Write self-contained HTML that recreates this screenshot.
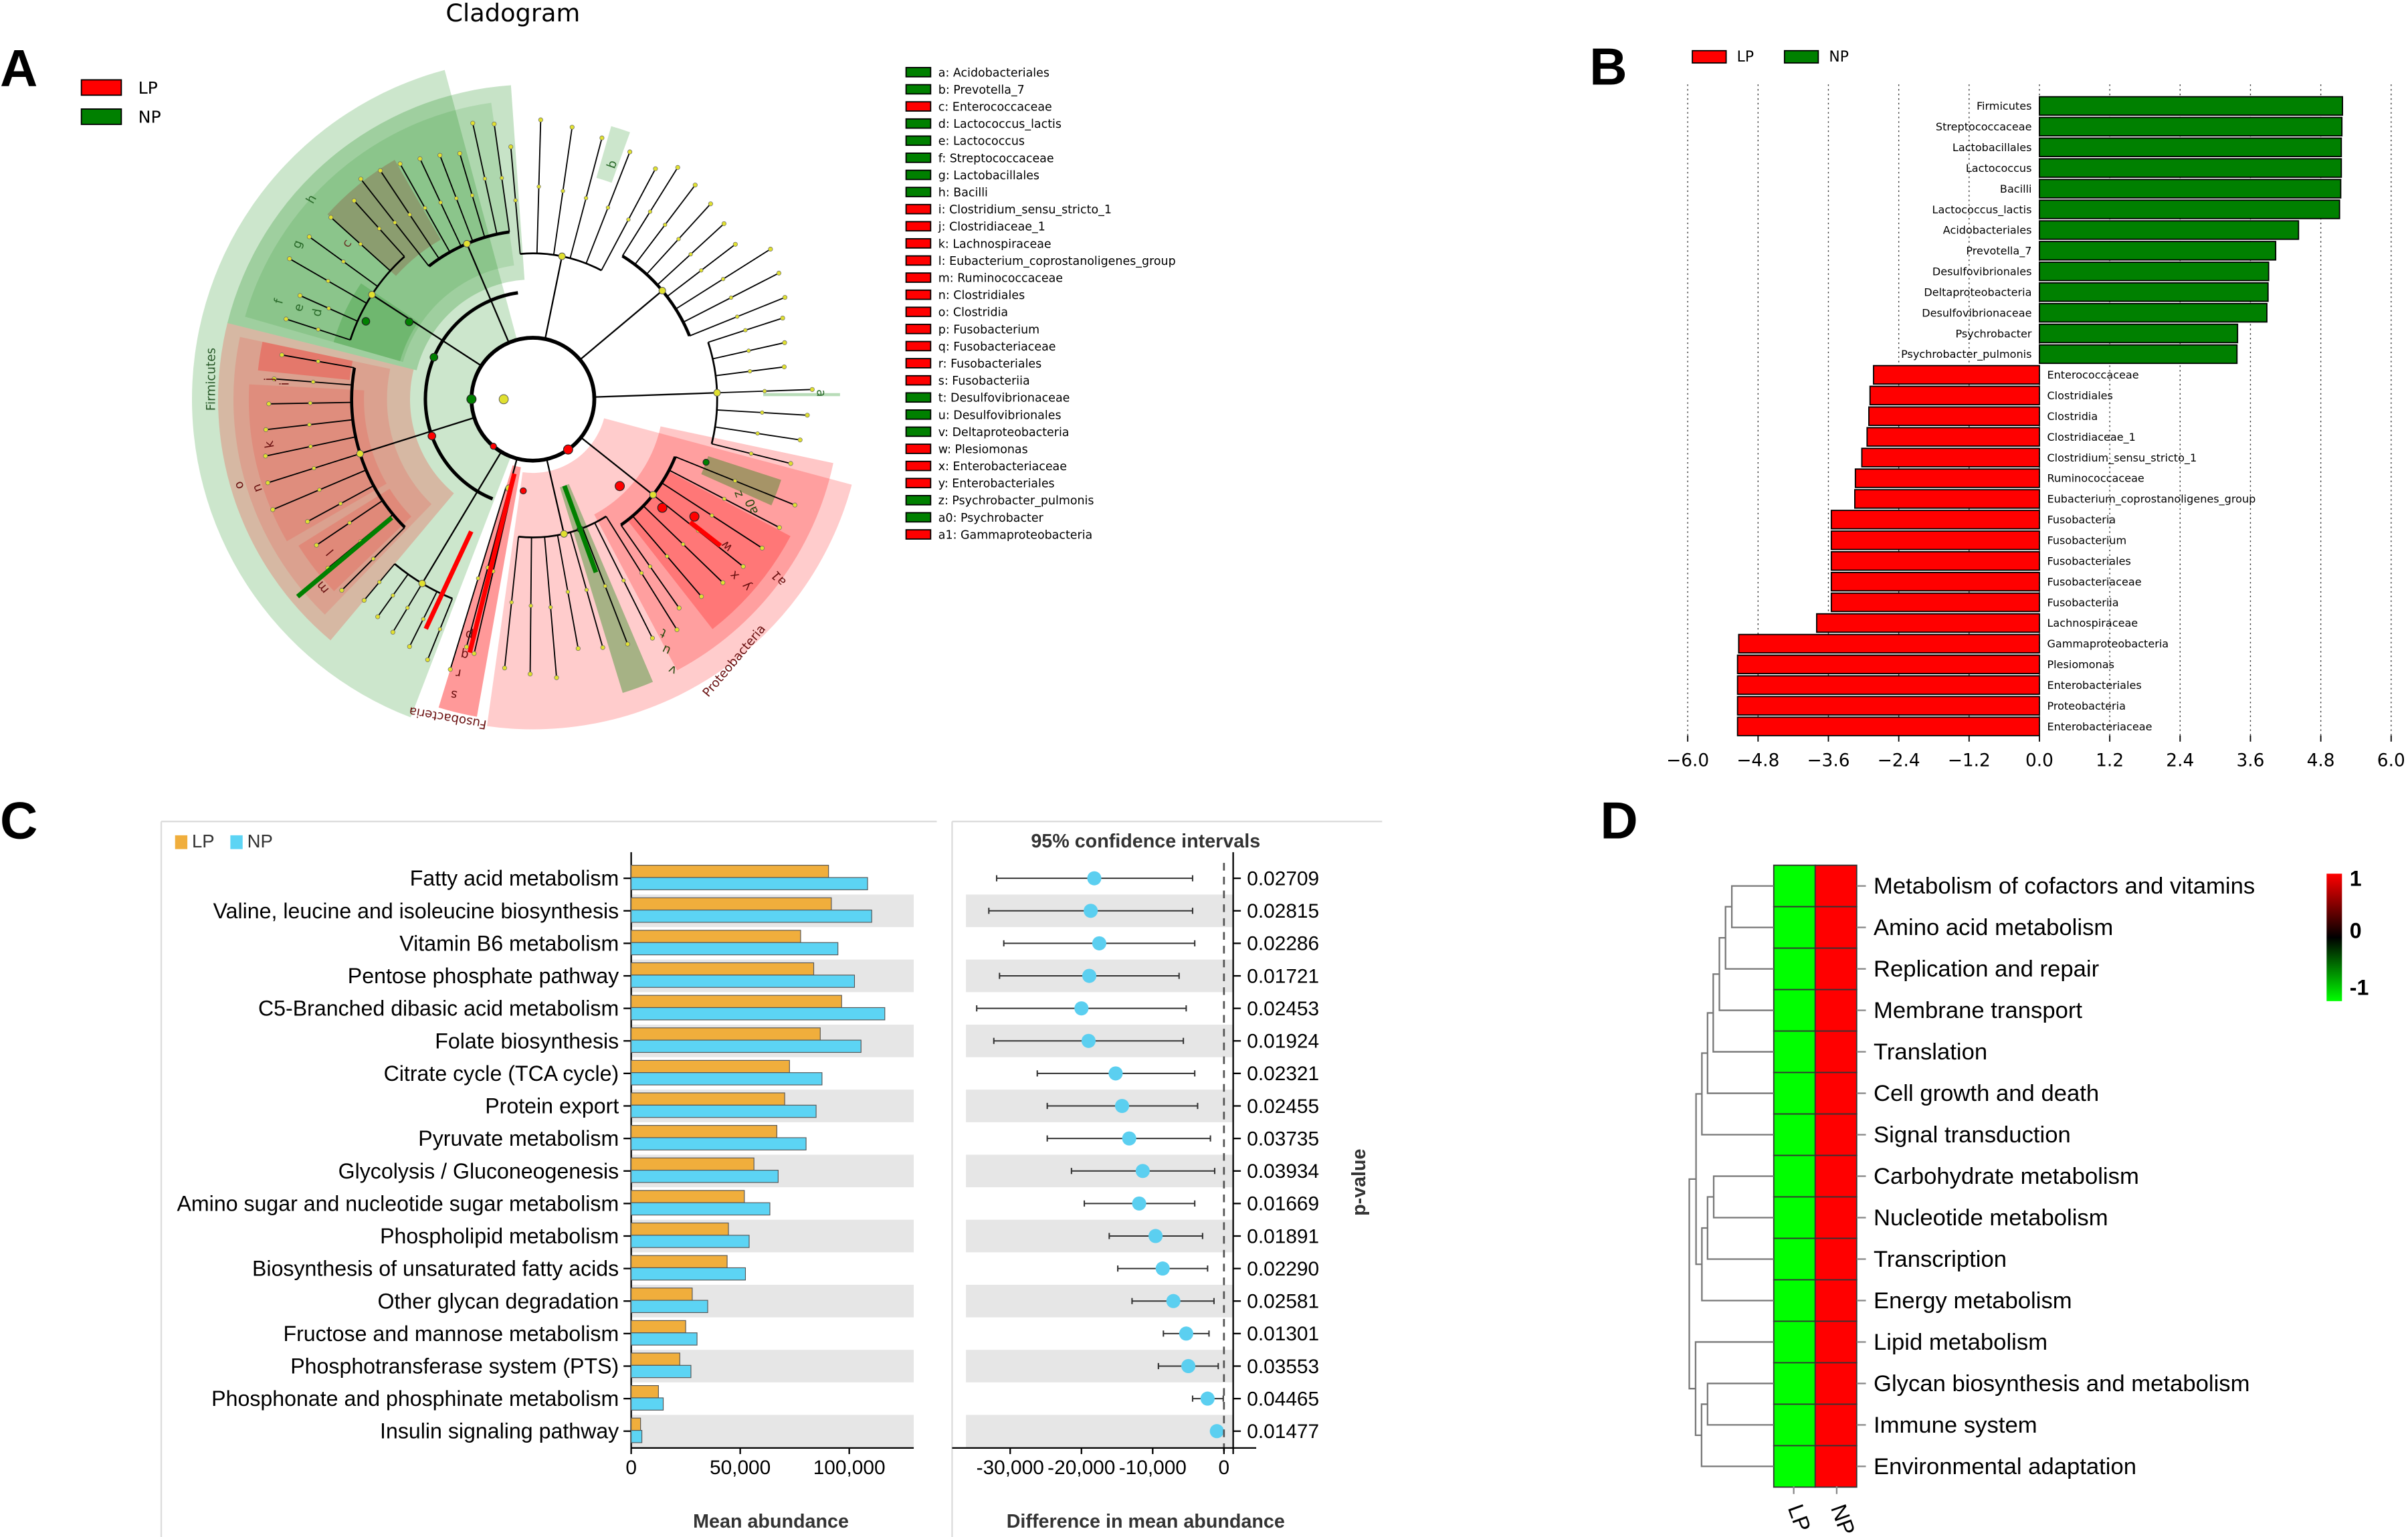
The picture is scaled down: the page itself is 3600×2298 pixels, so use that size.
<!DOCTYPE html>
<html><head><meta charset="utf-8"><style>
html,body{margin:0;padding:0;background:#fff}
svg{display:block}
text{font-family:"Liberation Sans","DejaVu Sans",sans-serif}
.dv{font-family:"DejaVu Sans","Liberation Sans",sans-serif}
</style></head><body>
<svg id="fig" xmlns="http://www.w3.org/2000/svg" width="3600" height="2298" viewBox="0 0 1568 1001" preserveAspectRatio="none">
<rect x="0" y="0" width="1568" height="1001" fill="#fff"/>
<text x="0" y="56" font-size="34" font-weight="bold">A</text>
<text x="1035" y="55" font-size="34" font-weight="bold">B</text>
<text x="0" y="546" font-size="34" font-weight="bold">C</text>
<text x="1042" y="546" font-size="34" font-weight="bold">D</text>
<text class="dv" x="334" y="14" font-size="16" text-anchor="middle">Cladogram</text>
<g id="pa"></g>
<g id="pal"></g>
<g id="pb"></g>
<g id="pc"></g>
<g id="pd"></g>
</svg>
<script>
// ---------- Panel B data ----------
const bNames = ["Firmicutes","Streptococcaceae","Lactobacillales","Lactococcus","Bacilli","Lactococcus_lactis","Acidobacteriales","Prevotella_7","Desulfovibrionales","Deltaproteobacteria","Desulfovibrionaceae","Psychrobacter","Psychrobacter_pulmonis","Enterococcaceae","Clostridiales","Clostridia","Clostridiaceae_1","Clostridium_sensu_stricto_1","Ruminococcaceae","Eubacterium_coprostanoligenes_group","Fusobacteria","Fusobacterium","Fusobacteriales","Fusobacteriaceae","Fusobacteriia","Lachnospiraceae","Gammaproteobacteria","Plesiomonas","Enterobacteriales","Proteobacteria","Enterobacteriaceae"];
const bValues = [5.17,5.16,5.15,5.15,5.14,5.12,4.42,4.03,3.91,3.90,3.88,3.38,3.37,-2.83,-2.89,-2.91,-2.94,-3.03,-3.14,-3.15,-3.55,-3.55,-3.55,-3.55,-3.55,-3.80,-5.13,-5.15,-5.15,-5.15,-5.15];
const bTicks = ["\u22126.0","\u22124.8","\u22123.6","\u22122.4","\u22121.2","0.0","1.2","2.4","3.6","4.8","6.0"];
const bTickVals = [-6,-4.8,-3.6,-2.4,-1.2,0,1.2,2.4,3.6,4.8,6];
// ---------- Panel C data ----------
const cNames = ["Fatty acid metabolism","Valine, leucine and isoleucine biosynthesis","Vitamin B6 metabolism","Pentose phosphate pathway","C5-Branched dibasic acid metabolism","Folate biosynthesis","Citrate cycle (TCA cycle)","Protein export","Pyruvate metabolism","Glycolysis / Gluconeogenesis","Amino sugar and nucleotide sugar metabolism","Phospholipid metabolism","Biosynthesis of unsaturated fatty acids","Other glycan degradation","Fructose and mannose metabolism","Phosphotransferase system (PTS)","Phosphonate and phosphinate metabolism","Insulin signaling pathway"];
const lpVals = [90500,91800,77700,83700,96500,86700,72600,70400,66800,56300,51900,44600,44000,28000,25000,22300,12500,4300];
const npVals = [108400,110300,94800,102400,116300,105400,87500,84800,80200,67400,63600,54100,52400,35100,30200,27400,14700,4900];
const diffMean = [-18200,-18700,-17500,-18900,-20000,-19000,-15200,-14300,-13300,-11400,-11900,-9600,-8600,-7100,-5300,-5000,-2300,-1000];
const ciLow = [-31900,-33000,-30900,-31500,-34700,-32300,-26200,-24800,-24800,-21400,-19600,-16100,-14900,-12900,-8500,-9200,-4400,-1500];
const ciHigh = [-4400,-4400,-4100,-6300,-5300,-5700,-4100,-3700,-1900,-1300,-4100,-3000,-2300,-1400,-2100,-800,-100,-300];
const pVals = ["0.02709","0.02815","0.02286","0.01721","0.02453","0.01924","0.02321","0.02455","0.03735","0.03934","0.01669","0.01891","0.02290","0.02581","0.01301","0.03553","0.04465","0.01477"];
const cTickVals = [0,50000,100000];
const cTicks = ["0","50,000","100,000"];
const dTickVals = [-30000,-20000,-10000,0];
const dTicks = ["-30,000","-20,000","-10,000","0"];
// ---------- Panel D data ----------
const dNames = ["Metabolism of cofactors and vitamins","Amino acid metabolism","Replication and repair","Membrane transport","Translation","Cell growth and death","Signal transduction","Carbohydrate metabolism","Nucleotide metabolism","Transcription","Energy metabolism","Lipid metabolism","Glycan biosynthesis and metabolism","Immune system","Environmental adaptation"];
const lpScore = [-1,-1,-1,-1,-1,-1,-1,-1,-1,-1,-1,-1,-1,-1,-1];
const npScore = [1,1,1,1,1,1,1,1,1,1,1,1,1,1,1];
// ---------- Cladogram legend ----------
const legLetters = ["a","b","c","d","e","f","g","h","i","j","k","l","m","n","o","p","q","r","s","t","u","v","w","x","y","z","a0","a1"];
const legTaxa = ["Acidobacteriales","Prevotella_7","Enterococcaceae","Lactococcus_lactis","Lactococcus","Streptococcaceae","Lactobacillales","Bacilli","Clostridium_sensu_stricto_1","Clostridiaceae_1","Lachnospiraceae","Eubacterium_coprostanoligenes_group","Ruminococcaceae","Clostridiales","Clostridia","Fusobacterium","Fusobacteriaceae","Fusobacteriales","Fusobacteriia","Desulfovibrionaceae","Desulfovibrionales","Deltaproteobacteria","Plesiomonas","Enterobacteriaceae","Enterobacteriales","Psychrobacter_pulmonis","Psychrobacter","Gammaproteobacteria"];
const legGroup = ["NP","NP","LP","NP","NP","NP","NP","NP","LP","LP","LP","LP","LP","LP","LP","LP","LP","LP","LP","NP","NP","NP","LP","LP","LP","NP","NP","LP"];

const NS="http://www.w3.org/2000/svg";
function mk(tag,attrs,parent,txt){const e=document.createElementNS(NS,tag);for(const k in attrs)e.setAttribute(k,attrs[k]);if(txt!==undefined)e.textContent=txt;parent.appendChild(e);return e;}
const RED="#ff0000", GRN="#008000";

// ===== Panel A: cladogram =====
const pa=document.getElementById('pa');
const CX=347, CY=260;
function pt(r,a){const t=a*Math.PI/180;return [CX+r*Math.cos(t),CY+r*Math.sin(t)];}
function sector(r0,r1,a0,a1){const p1=pt(r1,a0),p2=pt(r1,a1),p3=pt(r0,a1),p4=pt(r0,a0);const lg=(a1-a0)>180?1:0;
 return `M${p1[0]},${p1[1]} A${r1},${r1} 0 ${lg} 1 ${p2[0]},${p2[1]} L${p3[0]},${p3[1]} A${r0},${r0} 0 ${lg} 0 ${p4[0]},${p4[1]}Z`;}
function arcPath(r,a0,a1){const p1=pt(r,a0),p2=pt(r,a1);const lg=(a1-a0)>180?1:0;return `M${p1[0]},${p1[1]} A${r},${r} 0 ${lg} 1 ${p2[0]},${p2[1]}`;}
const sectors=[
 ["firmicutes-sector",40,222,111,255,GRN,0.2],
 ["bacilli-sector",78,205,194,266,GRN,0.22],
 ["lactobacillales-sector",88,195,196,262,GRN,0.12],
 ["streptococcaceae-sector",90,135,196,214,GRN,0.2],
 ["enterococcaceae-sector",120,180,222,240,"#8b0000",0.2],
 ["clostridia-sector",80,205,130,194,RED,0.2],
 ["clostridiales-sector",95,195,134,192,RED,0.12],
 ["lachnospiraceae-sector",110,185,150,183,RED,0.12],
 ["clostridiaceae-sector",120,180,186,192,RED,0.25],
 ["ruminococcaceae-sector",110,180,136,148,RED,0.15],
 ["proteobacteria-sector",48,215,15,98,RED,0.2],
 ["gammaproteobacteria-sector",85,200,12,62,RED,0.22],
 ["enterobacteriales-sector",100,190,28,52,RED,0.25],
 ["psychrobacter-sector",120,170,18,24,GRN,0.35],
 ["desulfovibrio-sector",60,200,67,73,GRN,0.35],
 ["fusobacteria-sector",45,210,100,107,RED,0.4],
 ["prevotella-sector",150,185,-74,-70,GRN,0.2]
];
sectors.forEach(s=>{const e=mk('path',{d:sector(s[1],s[2],s[3],s[4]),fill:s[5],'fill-opacity':s[6]},pa);

});
const acl=mk('line',{x1:CX+150,y1:CY-3,x2:CX+200,y2:CY-3,stroke:"#b8dcb8","stroke-width":2},pa);


const clades=[[-95,-62,6,95],[-58,-22,8,110],[-18,14,7,120],[22,55,7,100],[58,96,8,90],[103,107,3,60],[112,130,5,140],[135,190,11,118],[198,228,6,125],[232,262,8,110]];
const tg=mk('g',{},pa);


mk('circle',{cx:CX,cy:CY,r:40,fill:"none",stroke:"#000","stroke-width":2.5},tg);
mk('path',{d:arcPath(70,112,262),fill:"none",stroke:"#000","stroke-width":2.2},tg);
clades.forEach((c,ci)=>{const mid=(c[0]+c[1])/2;const jr=c[3];
 const a=pt(40,mid),b=pt(jr,mid);mk('line',{x1:a[0],y1:a[1],x2:b[0],y2:b[1],stroke:"#000","stroke-width":1},tg);
 mk('path',{d:arcPath(jr,c[0],c[1]),fill:"none",stroke:"#000","stroke-width":ci%2?2:1.2},tg);
 for(let i=0;i<c[2];i++){const ang=c[0]+(c[1]-c[0])*(c[2]>1?i/(c[2]-1):0.5);const rr=165+((i*37+ci*13)%20);
  const p=pt(jr,ang),q=pt(rr,ang);mk('line',{x1:p[0],y1:p[1],x2:q[0],y2:q[1],stroke:"#000","stroke-width":0.8},tg);
  mk('circle',{cx:q[0],cy:q[1],r:1.4,fill:"#e0e030",stroke:"#666","stroke-width":0.3},tg);
  const m=pt(jr+(rr-jr)*0.5,ang);mk('circle',{cx:m[0],cy:m[1],r:1.2,fill:"#e0e030",stroke:"#666","stroke-width":0.3},tg);}
 const n=pt(jr,mid);mk('circle',{cx:n[0],cy:n[1],r:2.2,fill:"#e0e030",stroke:"#555","stroke-width":0.4},tg);
});
[[40,180,GRN,3],[70,203,GRN,2.5],[95,212,GRN,2.5],[120,205,GRN,2.5],[40,130,RED,2],[70,160,RED,2.5],[40,55,RED,3],[80,45,RED,3],[110,40,RED,3],[130,36,RED,3],[60,96,RED,2],[90,70,GRN,2],[120,20,GRN,2]].forEach(d=>{
 const p=pt(d[0],d[1]);mk('circle',{cx:p[0],cy:p[1],r:d[3],fill:d[2],stroke:"#222","stroke-width":0.5},tg);});
[[120,200,140,GRN],[95,165,115,RED],[50,170,104,RED],[60,120,70,GRN],[130,155,38,RED]].forEach(d=>{
 const p=pt(d[0],d[2]),q=pt(d[1],d[2]);mk('line',{x1:p[0],y1:p[1],x2:q[0],y2:q[1],stroke:d[3],"stroke-width":3},tg);});
mk('circle',{cx:CX-19,cy:CY,r:3,fill:"#e0e030",stroke:"#555","stroke-width":0.4},tg);
const clab=[["Firmicutes",140,247,-90,"#2a5a2a"],["Proteobacteria",480,432,-50,"#6a1010"],["Fusobacteria",292,465,190,"#6a1010"],
 ["h",205,131,-60,"#2a6a2a"],["g",196,160,-70,"#2a6a2a"],["c",228,160,-55,"#6a3a2a"],["f",184,197,-75,"#2a6a2a"],["e",197,201,-75,"#2a6a2a"],["d",209,204,-80,"#2a6a2a"],
 ["o",158,315,-115,"#6a1010"],["n",170,317,-110,"#6a1010"],["k",178,289,-100,"#6a1010"],["j",178,247,-90,"#6a1010"],["i",188,250,-90,"#6a1010"],["l",217,358,-130,"#6a1010"],["m",212,381,-130,"#6a1010"],
 ["p",306,411,190,"#6a1010"],["q",303,424,190,"#6a1010"],["r",299,436,190,"#6a1010"],["s",296,450,190,"#6a1010"],
 ["t",433,410,-155,"#2a4a10"],["u",435,421,-155,"#2a4a10"],["v",439,434,-155,"#2a4a10"],["w",475,354,-135,"#6a1010"],["x",480,373,-135,"#6a1010"],["y",488,380,-135,"#6a1010"],["a1",509,375,-130,"#6a1010"],
 ["z",483,321,-110,"#2a4a10"],["a0",492,329,-110,"#2a4a10"],["b",401,108,-70,"#2a6a2a"],["a",532,256,90,"#2a6a2a"]];
clab.forEach(l=>{const t=mk('text',{x:l[1],y:l[2],'font-size':8,fill:l[4],'text-anchor':'middle',transform:`rotate(${l[3]} ${l[1]} ${l[2]})`,class:'dv'},pa,l[0]);

});
[["LP",RED,57],["NP",GRN,76]].forEach(l=>{const r=mk('rect',{x:53,y:l[2]-5,width:26,height:10,fill:l[1],stroke:"#000","stroke-width":0.8},pa);


const t=mk('text',{x:90,y:l[2]+4,'font-size':11,class:'dv'},pa,l[0]);

});
const pal=document.getElementById('pal');
legLetters.forEach((L,i)=>{const y=47+i*11.15;
 const r=mk('rect',{x:590,y:y-3,width:16,height:6,fill:legGroup[i]==="LP"?RED:GRN,stroke:"#000","stroke-width":0.8},pal);
 
 
 const t=mk('text',{x:611,y:y+2.8,'font-size':7.6,class:'dv'},pal,L+": "+legTaxa[i]);
 
 });

// ===== Panel B =====
const pb=document.getElementById('pb');
const bx=v=>1328+v*38.17, by=i=>69+i*13.47;
bTickVals.forEach((v,i)=>{const x=bx(v);
 const g=mk('line',{x1:x,y1:55,x2:x,y2:481,stroke:"#333","stroke-width":0.6,"stroke-dasharray":"1,2"},pb);
 
 
 mk('line',{x1:x,y1:479,x2:x,y2:483,stroke:"#000","stroke-width":0.8},pb);
 const t=mk('text',{x:x,y:499,'font-size':11.5,'text-anchor':'middle',class:'dv'},pb,bTicks[i]);
 
 });
bNames.forEach((n,i)=>{const v=bValues[i],y=by(i);
 const r=mk('rect',{x:Math.min(bx(0),bx(v)),y:y-6,width:Math.abs(bx(v)-bx(0)),height:12,fill:v>0?GRN:RED,stroke:"#000","stroke-width":0.8},pb);
 
 
 const t=mk('text',{x:v>0?1323:1333,y:y+2.5,'font-size':7,'text-anchor':v>0?'end':'start',class:'dv'},pb,n);
 
 });
[["LP",RED,1102],["NP",GRN,1162]].forEach(l=>{const r=mk('rect',{x:l[2],y:33,width:22,height:8,fill:l[1],stroke:"#000","stroke-width":0.8},pb);


const t=mk('text',{x:l[2]+29,y:40,'font-size':9.5,class:'dv'},pb,l[0]);

});

// ===== Panel C =====
const pc=document.getElementById('pc');
const cx=v=>411+v*0.00142, cy=i=>572+i*21.18, dx=v=>797+v*0.00464;
["M105,535 L610,535 M105,535 L105,1001","M620,535 L900,535 M620,535 L620,1001"].forEach(p=>{mk('path',{d:p,stroke:"#dcdcdc","stroke-width":1,fill:"none"},pc);});
cNames.forEach((n,i)=>{if(i%2===1){const y=cy(i)-10.6;
 const b1=mk('rect',{x:411,y:y,width:184,height:21.2,fill:"#e6e6e6"},pc);
 
 
 const b2=mk('rect',{x:629,y:y,width:174,height:21.2,fill:"#e6e6e6"},pc);
 
 }});
mk('line',{x1:411,y1:555,x2:411,y2:943,stroke:"#000","stroke-width":1},pc);
const xa=mk('line',{x1:411,y1:943,x2:595,y2:943,stroke:"#000","stroke-width":1},pc);


cTickVals.forEach((v,i)=>{mk('line',{x1:cx(v),y1:943,x2:cx(v),y2:947,stroke:"#000"},pc);
 const t=mk('text',{x:cx(v),y:960,'font-size':13,'text-anchor':'middle'},pc,cTicks[i]);
 
 });
cNames.forEach((n,i)=>{const y=cy(i);
 mk('line',{x1:406,y1:y,x2:411,y2:y,stroke:"#000"},pc);
 const t=mk('text',{x:403,y:y+4.8,'font-size':14,'text-anchor':'end'},pc,n);
 
 
 const r1=mk('rect',{x:411,y:y-8.5,width:cx(lpVals[i])-411,height:8,fill:"#f0ae3c",stroke:"#555","stroke-width":0.5},pc);
 
 
 const r2=mk('rect',{x:411,y:y-0.5,width:cx(npVals[i])-411,height:8,fill:"#5cd4f4",stroke:"#555","stroke-width":0.5},pc);
 
 
 const l=mk('line',{x1:dx(ciLow[i]),y1:y,x2:dx(ciHigh[i]),y2:y,stroke:"#333","stroke-width":0.9},pc);
 
 
 mk('line',{x1:dx(ciLow[i]),y1:y-2,x2:dx(ciLow[i]),y2:y+2,stroke:"#333","stroke-width":0.9},pc);
 mk('line',{x1:dx(ciHigh[i]),y1:y-2,x2:dx(ciHigh[i]),y2:y+2,stroke:"#333","stroke-width":0.9},pc);
 const c=mk('circle',{cx:dx(diffMean[i]),cy:y,r:4.6,fill:"#5bcff0"},pc);
 
 
 mk('line',{x1:803,y1:y,x2:808,y2:y,stroke:"#000"},pc);
 const p=mk('text',{x:812,y:y+4.5,'font-size':13},pc,pVals[i]);
 
 });
mk('line',{x1:797,y1:562,x2:797,y2:945,stroke:"#555","stroke-width":1.2,"stroke-dasharray":"5,4"},pc);
mk('line',{x1:803,y1:555,x2:803,y2:947,stroke:"#000","stroke-width":1},pc);
const xb=mk('line',{x1:620,y1:943,x2:818,y2:943,stroke:"#000","stroke-width":1},pc);


dTickVals.forEach((v,i)=>{mk('line',{x1:dx(v),y1:943,x2:dx(v),y2:947,stroke:"#000"},pc);
 const t=mk('text',{x:dx(v),y:960,'font-size':13,'text-anchor':'middle'},pc,dTicks[i]);
 
 });
[["Mean abundance",502,995,0,"x-axis-title-c"],["Difference in mean abundance",746,995,0,"x-axis-title-diff"],["95% confidence intervals",746,552,0,"ci-title"],["p-value",889,770,-90,"p-value-title"]].forEach(a=>{
 const t=mk('text',{x:a[1],y:a[2],'font-size':12.5,'font-weight':'bold','text-anchor':'middle',fill:'#333',transform:`rotate(${a[3]} ${a[1]} ${a[2]})`},pc,a[0]);
 
 });
[["LP","#f0ae3c",114],["NP","#5cd4f4",150]].forEach(l=>{const r=mk('rect',{x:l[2],y:544,width:8,height:9,fill:l[1]},pc);
 
 
 const t=mk('text',{x:l[2]+11,y:552,'font-size':12,fill:'#333'},pc,l[0]);
 
 });

// ===== Panel D =====
const pd=document.getElementById('pd');
const dy=i=>563.5+i*27;
function col(v){return v>0?`rgb(${Math.round(255*v)},0,0)`:`rgb(0,${Math.round(255*-v)},0)`;}
dNames.forEach((n,i)=>{
 const a=mk('rect',{x:1155,y:dy(i),width:27,height:27,fill:col(lpScore[i]),stroke:"#333","stroke-width":0.8},pd);
 
 
 const b=mk('rect',{x:1182,y:dy(i),width:27,height:27,fill:col(npScore[i]),stroke:"#333","stroke-width":0.8},pd);
 
 
 mk('line',{x1:1209,y1:dy(i)+13.5,x2:1215,y2:dy(i)+13.5,stroke:"#888"},pd);
 const t=mk('text',{x:1220,y:dy(i)+18.5,'font-size':15.1},pd,n);
 
 });
const dend=[[0,1,1127.7],["n0",2,1123.6],["n1",3,1119.6],["n2",4,1115.6],["n3",5,1111.9],["n4",6,1108.2],[7,8,1115.9],["n6",9,1111.9],["n7",10,1108.2],["n5","n8",1104.4],[12,13,1111.9],["n10",14,1108],[11,"n11",1104.1],["n9","n12",1100]];
const dg=mk('g',{stroke:"#777","stroke-width":1,fill:"none"},pd);


const nodes=[];
function pos(k){return typeof k==="number"?{y:dy(k)+13.5,x:1155}:nodes[+k.slice(1)];}
dend.forEach(d=>{const a=pos(d[0]),b=pos(d[1]),x=d[2];
 mk('path',{d:`M${a.x},${a.y} L${x},${a.y} L${x},${b.y} L${b.x},${b.y}`},dg);
 nodes.push({x:x,y:(a.y+b.y)/2});});
[["LP",1168],["NP",1196]].forEach(l=>{mk('line',{x1:l[1],y1:968,x2:l[1],y2:973,stroke:"#888"},pd);
 const t=mk('text',{x:l[1]-4,y:982,'font-size':14.5,transform:`rotate(70 ${l[1]-4} 982)`},pd,l[0]);
 
 });
const defs=mk('defs',{},document.getElementById('fig'));
const lg=mk('linearGradient',{id:'cb',x1:0,y1:0,x2:0,y2:1},defs);
mk('stop',{offset:'0','stop-color':'#ff0000'},lg);mk('stop',{offset:'0.5','stop-color':'#000'},lg);mk('stop',{offset:'1','stop-color':'#00ff00'},lg);
const cb=mk('rect',{x:1515,y:569,width:10,height:83,fill:'url(#cb)'},pd);


[["1",577],["0",611],["-1",648]].forEach(l=>{const t=mk('text',{x:1530,y:l[1],'font-size':14,'font-weight':'bold'},pd,l[0]);
 
 });
</script>
</body></html>
